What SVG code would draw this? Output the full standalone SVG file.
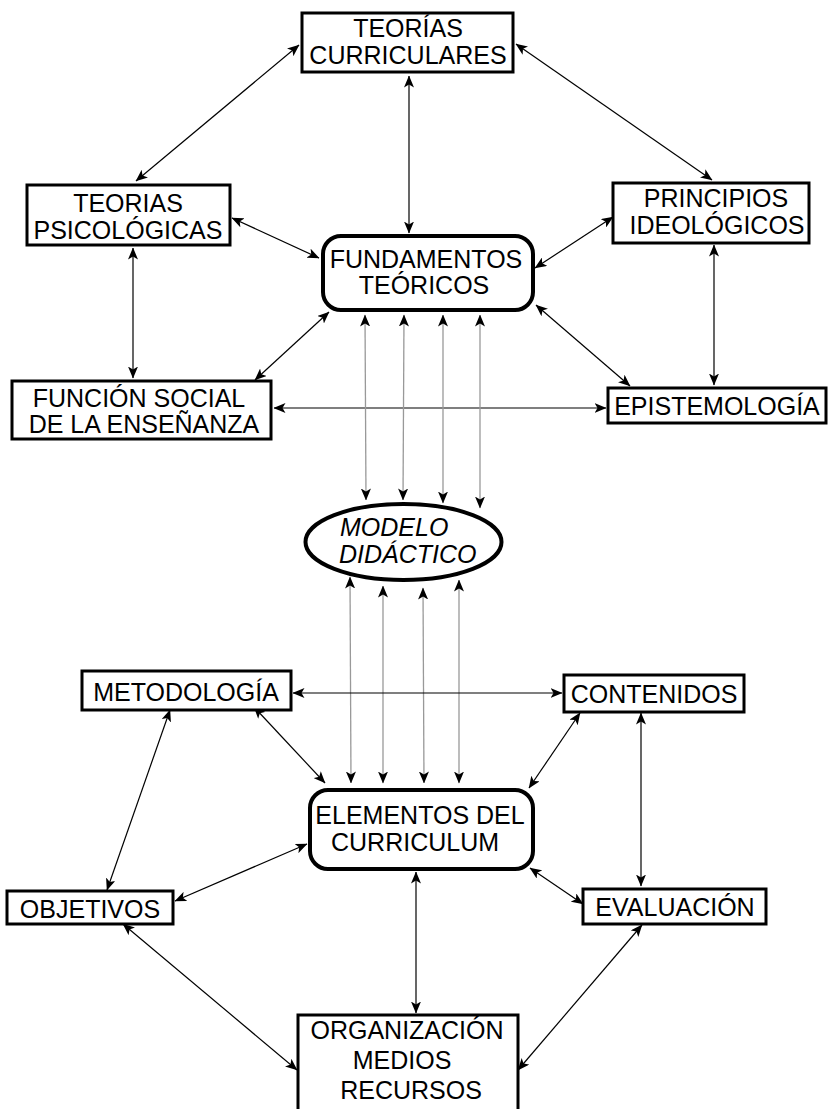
<svg xmlns="http://www.w3.org/2000/svg" width="830" height="1109" viewBox="0 0 830 1109">
<style>
.box{fill:#fff;stroke:#000;stroke-width:3}
.rbox{fill:#fff;stroke:#000;stroke-width:4}
text{font-family:"Liberation Sans",Arial,sans-serif;font-size:25px;fill:#000;text-anchor:middle}
.it{font-style:italic;text-anchor:start}
.c{stroke:#000;stroke-width:1.2;fill:none;marker-start:url(#ah);marker-end:url(#ah)}
.g{stroke:#999;stroke-width:1.3;fill:none;marker-start:url(#ah);marker-end:url(#ah)}
</style>
<defs>
<marker id="ah" viewBox="0 0 12 10" refX="11.5" refY="5" markerWidth="12" markerHeight="10" markerUnits="userSpaceOnUse" orient="auto-start-reverse">
<path d="M0,0 L12,5 L0,10 L3,5 z" fill="#000"/>
</marker>
</defs>
<rect width="830" height="1109" fill="#fff"/>
<g id="connectors">
<line class="c" x1="299" y1="45" x2="136" y2="181"/>
<line class="c" x1="516" y1="44" x2="712" y2="180"/>
<line class="c" x1="409" y1="76" x2="409" y2="233"/>
<line class="c" x1="232" y1="218" x2="319" y2="258"/>
<line class="c" x1="133" y1="248" x2="133" y2="378"/>
<line class="c" x1="613" y1="217" x2="535" y2="268"/>
<line class="c" x1="714" y1="245" x2="714" y2="385"/>
<line class="c" x1="329" y1="312" x2="255" y2="380"/>
<line class="c" x1="536" y1="305" x2="630" y2="386"/>
<line class="c" x1="274" y1="408" x2="606" y2="408"/>
<line class="g" x1="365" y1="315" x2="366" y2="500"/>
<line class="g" x1="404" y1="315" x2="403" y2="500"/>
<line class="g" x1="443" y1="315" x2="443" y2="503"/>
<line class="g" x1="480" y1="315" x2="480" y2="508"/>
<line class="g" x1="350" y1="577" x2="351" y2="783"/>
<line class="g" x1="383" y1="586" x2="383" y2="783"/>
<line class="g" x1="423" y1="588" x2="424" y2="783"/>
<line class="g" x1="459" y1="580" x2="459" y2="783"/>
<line class="c" x1="293" y1="693" x2="562" y2="693"/>
<line class="c" x1="254" y1="707" x2="325" y2="783"/>
<line class="c" x1="170" y1="710" x2="107" y2="890"/>
<line class="c" x1="580" y1="713" x2="529" y2="788"/>
<line class="c" x1="641" y1="713" x2="641" y2="886"/>
<line class="c" x1="307" y1="844" x2="175" y2="901"/>
<line class="c" x1="530" y1="868" x2="583" y2="904"/>
<line class="c" x1="416" y1="872" x2="416" y2="1013"/>
<line class="c" x1="123" y1="924" x2="297" y2="1070"/>
<line class="c" x1="642" y1="925" x2="518" y2="1070"/>
</g>
<g id="teorias-curriculares">
<rect class="box" x="302" y="13" width="211" height="59"/>
<text x="408" y="37">TEORÍAS</text>
<text x="408" y="64">CURRICULARES</text>
</g>
<g id="teorias-psicologicas">
<rect class="box" x="27" y="185" width="203" height="60"/>
<text x="128" y="212">TEORIAS</text>
<text x="128" y="239">PSICOLÓGICAS</text>
</g>
<g id="principios">
<rect class="box" x="613" y="183" width="196" height="60"/>
<text x="716" y="207">PRINCIPIOS</text>
<text x="717" y="234">IDEOLÓGICOS</text>
</g>
<g id="fundamentos">
<rect class="rbox" x="323" y="236" width="210" height="74" rx="18"/>
<text x="426" y="268">FUNDAMENTOS</text>
<text x="424" y="294">TEÓRICOS</text>
</g>
<g id="funcion-social">
<rect class="box" x="12" y="381" width="259" height="58"/>
<text x="139" y="407">FUNCIÓN SOCIAL</text>
<text x="144" y="433">DE LA ENSEÑANZA</text>
</g>
<g id="epistemologia">
<rect class="box" x="608" y="388" width="218" height="35"/>
<text x="717" y="415">EPISTEMOLOGÍA</text>
</g>
<g id="modelo-didactico">
<ellipse cx="403.5" cy="542" rx="98" ry="38" fill="#fff" stroke="#000" stroke-width="4"/>
<text class="it" x="340" y="536">MODELO</text>
<text class="it" x="339" y="563">DIDÁCTICO</text>
</g>
<g id="metodologia">
<rect class="box" x="82" y="671" width="209" height="39"/>
<text x="186" y="701">METODOLOGÍA</text>
</g>
<g id="contenidos">
<rect class="box" x="564" y="675" width="180" height="37"/>
<text x="654" y="703">CONTENIDOS</text>
</g>
<g id="elementos">
<rect class="rbox" x="310" y="790" width="223" height="79" rx="18"/>
<text x="420" y="824">ELEMENTOS DEL</text>
<text x="415" y="851">CURRICULUM</text>
</g>
<g id="objetivos">
<rect class="box" x="7" y="891" width="166" height="33"/>
<text x="90" y="918">OBJETIVOS</text>
</g>
<g id="evaluacion">
<rect class="box" x="583" y="889" width="183" height="35"/>
<text x="675" y="916">EVALUACIÓN</text>
</g>
<g id="organizacion">
<rect class="box" x="298" y="1015" width="220" height="100"/>
<text x="407" y="1039">ORGANIZACIÓN</text>
<text x="402" y="1069">MEDIOS</text>
<text x="411" y="1099">RECURSOS</text>
</g>
</svg>
